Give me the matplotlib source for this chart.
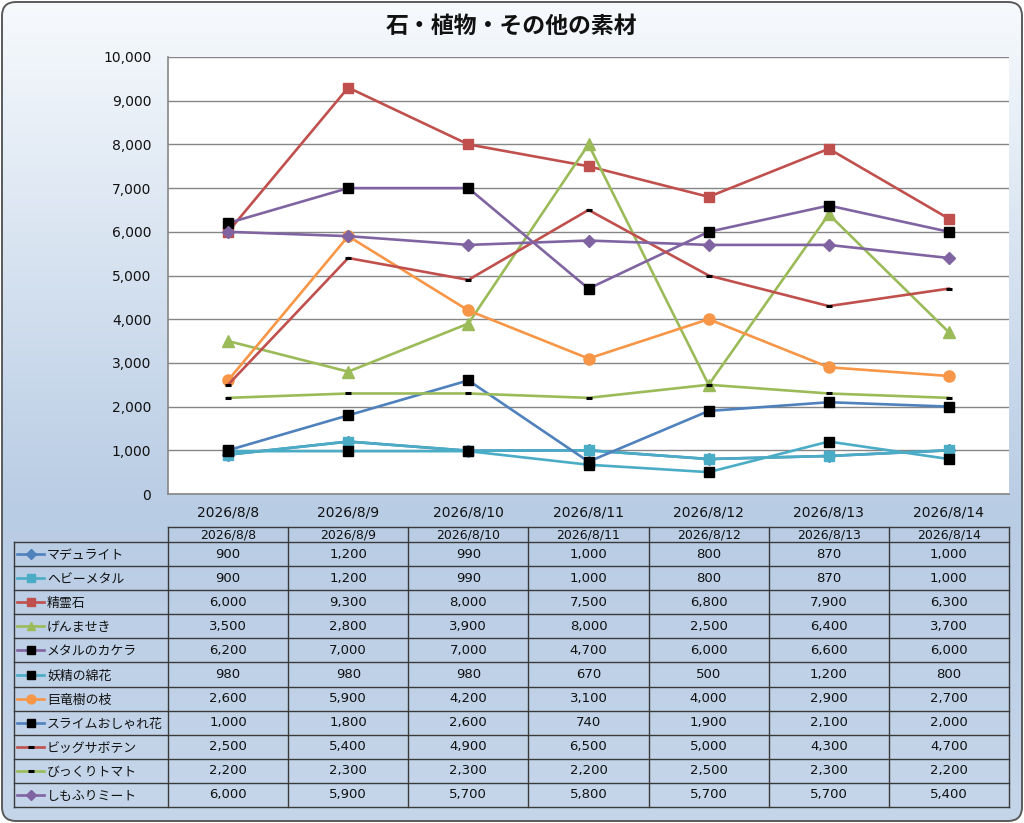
import numpy as np
import matplotlib
matplotlib.use("Agg")
import matplotlib.pyplot as plt
from matplotlib.patches import FancyBboxPatch
from matplotlib.ticker import FuncFormatter, MultipleLocator

plt.rcParams["font.family"] = ["Noto Sans CJK JP", "DejaVu Sans"]
num_font = ["DejaVu Sans"]

title = "石・植物・その他の素材"
dates = ["2026/8/8", "2026/8/9", "2026/8/10", "2026/8/11",
         "2026/8/12", "2026/8/13", "2026/8/14"]

names = ["マデュライト", "ヘビーメタル", "精霊石", "げんませき", "メタルのカケラ",
         "妖精の綿花", "巨竜樹の枝", "スライムおしゃれ花", "ビッグサボテン",
         "びっくりトマト", "しもふりミート"]

maduraito = [900, 1200, 990, 1000, 800, 870, 1000]
heavy_metal = [900, 1200, 990, 1000, 800, 870, 1000]
seireiseki = [6000, 9300, 8000, 7500, 6800, 7900, 6300]
genmaseki = [3500, 2800, 3900, 8000, 2500, 6400, 3700]
metal_kakera = [6200, 7000, 7000, 4700, 6000, 6600, 6000]
yousei_menka = [980, 980, 980, 670, 500, 1200, 800]
kyoryu_eda = [2600, 5900, 4200, 3100, 4000, 2900, 2700]
slime_hana = [1000, 1800, 2600, 740, 1900, 2100, 2000]
big_saboten = [2500, 5400, 4900, 6500, 5000, 4300, 4700]
bikkuri_tomato = [2200, 2300, 2300, 2200, 2500, 2300, 2200]
shimofuri_meat = [6000, 5900, 5700, 5800, 5700, 5700, 5400]

values = [maduraito, heavy_metal, seireiseki, genmaseki, metal_kakera,
          yousei_menka, kyoryu_eda, slime_hana, big_saboten,
          bikkuri_tomato, shimofuri_meat]

blue, red, green = "#4F81BD", "#C0504D", "#9BBB59"
purple, aqua, orange = "#8064A2", "#4BACC6", "#F79646"

# (line colour, marker, marker colour, marker size)
styles = [
    (blue, "D", blue, 6),
    (aqua, "s", aqua, 7.5),
    (red, "s", red, 7.5),
    (green, "^", green, 8),
    (purple, "s", "black", 7.5),
    (aqua, "s", "black", 7.5),
    (orange, "o", orange, 8),
    (blue, "s", "black", 7.5),
    (red, "_", "black", 5),
    (green, "_", "black", 5),
    (purple, "D", purple, 6),
]

W, H = 1024, 823
fig = plt.figure(figsize=(W / 100, H / 100), dpi=100)

# background with gradient and rounded border
bg = fig.add_axes([0, 0, 1, 1])
bg.set_xlim(0, W)
bg.set_ylim(H, 0)
bg.axis("off")
t = np.linspace(0, 1, 400)
c_top = np.array([247, 250, 253]) / 255
c_mid = np.array([184, 204, 228]) / 255
c_bot = np.array([198, 214, 234]) / 255
grad = np.where(t[:, None] < 0.62,
                c_top + (c_mid - c_top) * (t[:, None] / 0.62),
                c_mid + (c_bot - c_mid) * ((t[:, None] - 0.62) / 0.38))
img = bg.imshow(grad[:, None, :].repeat(2, axis=1), extent=(0, W, H, 0),
                aspect="auto", zorder=0)
frame = FancyBboxPatch((2, 2), W - 4, H - 4,
                       boxstyle="round,pad=0,rounding_size=14",
                       facecolor="none", edgecolor="#5a5a5a", lw=1.4, zorder=5)
bg.add_patch(frame)
img.set_clip_path(frame)

bg.text(512, 26, title, ha="center", va="center", fontsize=16.5,
        fontweight="bold", color="#111111")

# plot area
left, right, top, bottom = 168, 1009, 57, 494
ax = fig.add_axes([left / W, 1 - bottom / H, (right - left) / W, (bottom - top) / H])
ax.set_facecolor("white")
x = np.arange(len(dates))
for vals, (lc, mk, mc, ms) in zip(values, styles):
    if mk == "_":
        ax.plot(x, vals, color=lc, lw=1.9, marker=mk, ms=ms, mec=mc, mew=2.2)
    else:
        ax.plot(x, vals, color=lc, lw=1.9, marker=mk, ms=ms, mfc=mc, mec=mc)
ax.set_xlim(-0.5, len(dates) - 0.5)
ax.set_ylim(0, 10000)
ax.yaxis.set_major_locator(MultipleLocator(1000))
ax.yaxis.set_major_formatter(FuncFormatter(lambda v, p: f"{int(v):,}"))
ax.set_xticks(x)
ax.set_xticklabels(dates)
for lab in ax.get_xticklabels() + ax.get_yticklabels():
    lab.set_fontfamily(num_font)
ax.grid(axis="y", color="#868686", lw=1)
ax.set_axisbelow(True)
for s in ["top", "right"]:
    ax.spines[s].set_visible(False)
for s in ["left", "bottom"]:
    ax.spines[s].set_color("#868686")
    ax.spines[s].set_linewidth(1.2)
ax.tick_params(length=0, labelsize=10, colors="#111111")
ax.tick_params(axis="y", pad=12)
ax.tick_params(axis="x", pad=8)

# data table
col_w = (right - left) / len(dates)
tab_left = 14
head_top, head_bot = 527, 542
row_h = (807 - head_bot) / len(names)
lc_tab = "#3a3a3a"
bg.plot([left, right], [head_top, head_top], color=lc_tab, lw=1, zorder=3)
for i in range(len(names) + 1):
    y = head_bot + i * row_h
    bg.plot([tab_left, right], [y, y], color=lc_tab, lw=1, zorder=3)
bg.plot([tab_left, tab_left], [head_bot, 807], color=lc_tab, lw=1, zorder=3)
for j in range(len(dates) + 1):
    xx = left + j * col_w
    bg.plot([xx, xx], [head_top, 807], color=lc_tab, lw=1, zorder=3)
for j, d in enumerate(dates):
    bg.text(left + (j + 0.5) * col_w, (head_top + head_bot) / 2, d,
            ha="center", va="center", fontsize=9, color="#111111",
            fontfamily=num_font, zorder=4)
for i, (name, vals, (lc, mk, mc, ms)) in enumerate(zip(names, values, styles)):
    yc = head_bot + (i + 0.5) * row_h
    bg.plot([17, 44], [yc, yc], color=lc, lw=1.9, zorder=4)
    if mk == "_":
        bg.plot([31], [yc], marker=mk, ms=ms, mec=mc, mew=2.2, zorder=4)
    else:
        bg.plot([31], [yc], marker=mk, ms=ms * 0.8, mfc=mc, mec=mc, zorder=4)
    bg.text(47, yc + 1.5, name, ha="left", va="center", fontsize=9.3,
            color="#111111", zorder=4)
    for j, v in enumerate(vals):
        bg.text(left + (j + 0.5) * col_w, yc, f"{v:,}", ha="center",
                va="center", fontsize=9.5, color="#111111",
                fontfamily=num_font, zorder=4)

fig.savefig("out.png", dpi=100)
